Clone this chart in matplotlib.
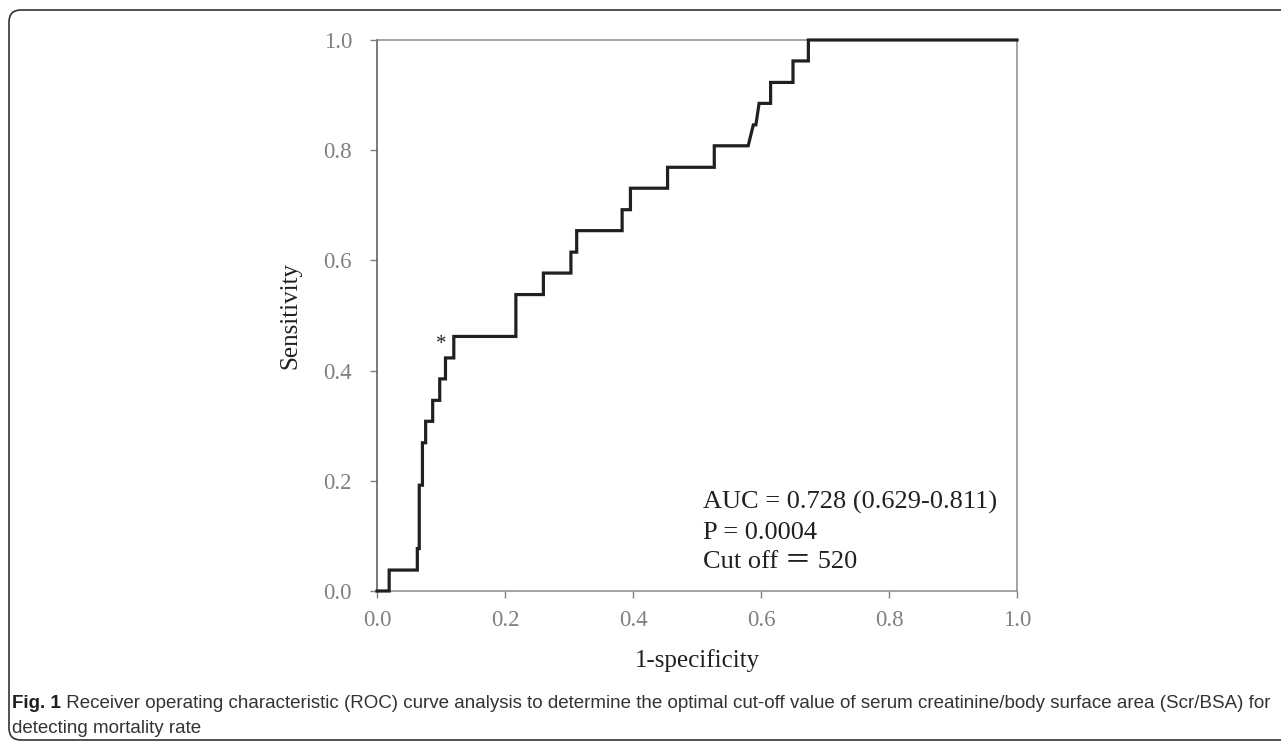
import matplotlib.pyplot as plt
from matplotlib.patches import FancyBboxPatch

# ROC curve vertices (1-specificity, sensitivity)
fpr = [0.0, 0.019, 0.019, 0.063, 0.063, 0.066, 0.066, 0.071, 0.071, 0.076,
       0.076, 0.087, 0.087, 0.098, 0.098, 0.107, 0.107, 0.120, 0.120, 0.217,
       0.217, 0.260, 0.260, 0.303, 0.303, 0.312, 0.312, 0.383, 0.383, 0.396,
       0.396, 0.454, 0.454, 0.527, 0.527, 0.580, 0.588, 0.592, 0.597, 0.615,
       0.615, 0.650, 0.650, 0.674, 0.674, 1.0]
tpr = [0.0, 0.0, 0.038, 0.038, 0.077, 0.077, 0.192, 0.192, 0.269, 0.269,
       0.308, 0.308, 0.346, 0.346, 0.385, 0.385, 0.423, 0.423, 0.462, 0.462,
       0.538, 0.538, 0.577, 0.577, 0.615, 0.615, 0.654, 0.654, 0.692, 0.692,
       0.731, 0.731, 0.769, 0.769, 0.808, 0.808, 0.846, 0.846, 0.885, 0.885,
       0.923, 0.923, 0.962, 0.962, 1.0, 1.0]
cut_point = (0.100, 0.462)
stats = ['AUC = 0.728 (0.629-0.811)', 'P = 0.0004', 'Cut off \uff1d 520']
ticks = [0.0, 0.2, 0.4, 0.6, 0.8, 1.0]
caption_bold = 'Fig. 1'
caption = (' Receiver operating characteristic (ROC) curve analysis to determine the optimal '
           'cut-off value of serum creatinine/body surface area (Scr/BSA) for')
caption2 = 'detecting mortality rate'

serif = ['Liberation Serif', 'Noto Sans CJK JP', 'DejaVu Serif']
sans = ['Liberation Sans Narrow', 'Liberation Sans', 'DejaVu Sans']
W, H = 1281, 742
fig = plt.figure(figsize=(W / 100, H / 100), dpi=100)

# page-like frame with rounded corner
bg = fig.add_axes([0, 0, 1, 1])
bg.set_xlim(0, W)
bg.set_ylim(H, 0)
bg.axis('off')
bg.add_patch(FancyBboxPatch((9, 10), 1320, 730, boxstyle='round,pad=0,rounding_size=12',
                            fc='white', ec='#333333', lw=1.2))
t1 = bg.text(12, 708, caption_bold, fontsize=13.5, fontweight='bold', family=sans,
             color='#231f20', va='baseline')
bg.annotate(caption, xy=(1, 0), xycoords=t1, va='bottom', fontsize=13.5, family=sans,
            color='#333333')
bg.text(12, 733, caption2, fontsize=13.5, family=sans, color='#333333', va='baseline')

ax = fig.add_axes([377 / W, 1 - 591 / H, 640 / W, 551 / H])
ax.plot(fpr, tpr, color='#231f20', lw=2.3, solid_joinstyle='miter', zorder=3, clip_on=False)
ax.text(cut_point[0], cut_point[1] - 0.022, '*', ha='center', va='baseline', fontsize=15,
        family=serif, color='#231f20')
for i, s in enumerate(stats):
    ax.text(0.509, 0.149 - i * 0.054, s, fontsize=19, family=serif, color='#231f20',
            va='baseline')

ax.set_xlim(0, 1)
ax.set_ylim(0, 1)
ax.set_xticks(ticks)
ax.set_yticks(ticks)
ax.set_xticklabels([f'{t:.1f}' for t in ticks], family=serif, fontsize=16.5, color='#808080')
ax.set_yticklabels([f'{t:.1f}' for t in ticks], family=serif, fontsize=16.5, color='#808080')
ax.tick_params(axis='both', direction='out', length=5, width=1, color='#808080')
ax.tick_params(axis='y', pad=13)
ax.tick_params(axis='x', pad=9)
for sp in ax.spines.values():
    sp.set_color('#8a8a8a')
    sp.set_linewidth(1.1)
ax.spines['left'].set_color('#555555')
ax.set_xlabel('1-specificity', family=serif, fontsize=18, color='#231f20', labelpad=13)
ax.set_ylabel('Sensitivity', family=serif, fontsize=18, color='#231f20', labelpad=16)

fig.savefig('out.png', dpi=100)
